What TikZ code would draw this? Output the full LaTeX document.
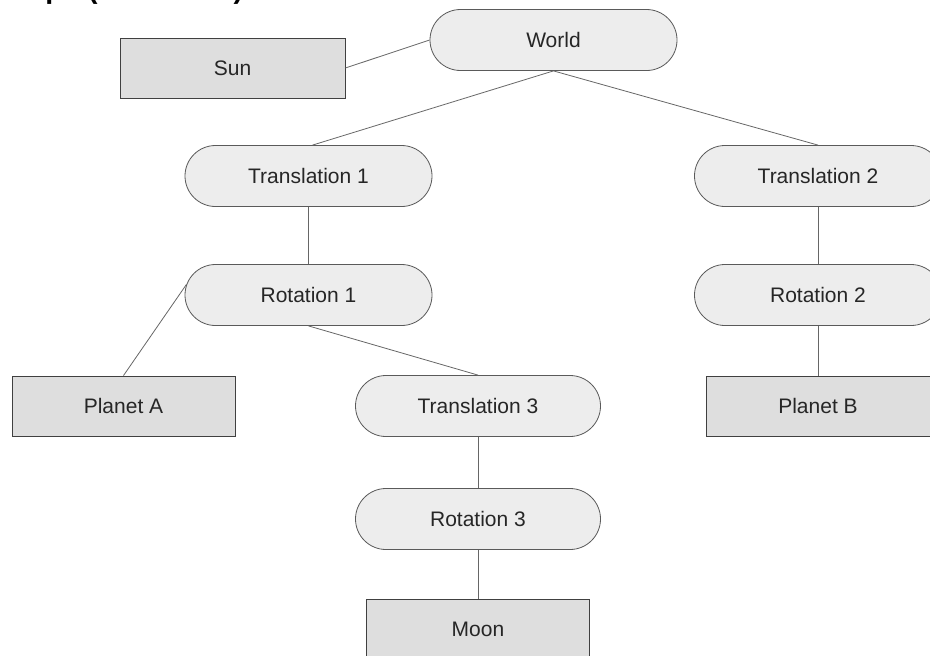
\documentclass[tikz,border=0pt]{standalone}
\usepackage{fontspec}
\setmainfont{Liberation Sans}
\usetikzlibrary{shapes.misc}
\definecolor{pillfill}{HTML}{EDEDED}
\definecolor{boxfill}{HTML}{DEDEDE}
\definecolor{edgegray}{HTML}{5A5A5A}
\definecolor{linegray}{HTML}{666666}
\tikzset{
  pill/.style={rounded rectangle, draw=edgegray, fill=pillfill, line width=0.8pt,
    minimum width=247pt, minimum height=61pt, inner sep=0pt,
    font=\fontsize{21}{25}\selectfont, text=black!85},
  objbox/.style={rectangle, draw=black!75, fill=boxfill, line width=0.9pt,
    minimum width=224pt, minimum height=60pt, inner sep=0pt,
    font=\fontsize{21}{25}\selectfont, text=black!85},
  link/.style={draw=linegray, line width=0.8pt},
  titletext/.style={anchor=base west, inner sep=0pt, font=\bfseries\fontsize{28.5}{32}\selectfont}
}
\begin{document}
\begin{tikzpicture}[x=1pt,y=-1pt]
\useasboundingbox (0,0) rectangle (930,656);
\clip (0,0) rectangle (930,656);
\node[titletext] (title) at (-4,-2) {Graph (continued)};
\node[objbox, minimum width=225pt] (sun) at (232.5,68) {Sun};
\node[pill] (world) at (553.5,40) {World};
\node[pill] (t1) at (308.5,176) {Translation 1};
\node[pill] (t2) at (818,176) {Translation 2};
\node[pill] (r1) at (308.5,295) {Rotation 1};
\node[pill] (r2) at (818,295) {Rotation 2};
\node[objbox, minimum width=223pt] (pa) at (123.5,406) {Planet A};
\node[pill, minimum width=245pt] (t3) at (478,406) {Translation 3};
\node[objbox] (pb) at (818,406) {Planet B};
\node[pill, minimum width=245pt] (r3) at (478,519) {Rotation 3};
\node[objbox, minimum width=223pt] (moon) at (478,629) {Moon};
\draw[link] (sun.east) -- (world.west);
\draw[link] (world.south) -- ([xshift=4pt]t1.north);
\draw[link] (world.south) -- (t2.north);
\draw[link] (t1.south) -- (r1.north);
\draw[link] (r1.175) -- (pa.north);
\draw[link] (r1.south) -- (t3.north);
\draw[link] (t3.south) -- (r3.north);
\draw[link] (r3.south) -- (moon.north);
\draw[link] (t2.south) -- (r2.north);
\draw[link] (r2.south) -- (pb.north);
\end{tikzpicture}
\end{document}
